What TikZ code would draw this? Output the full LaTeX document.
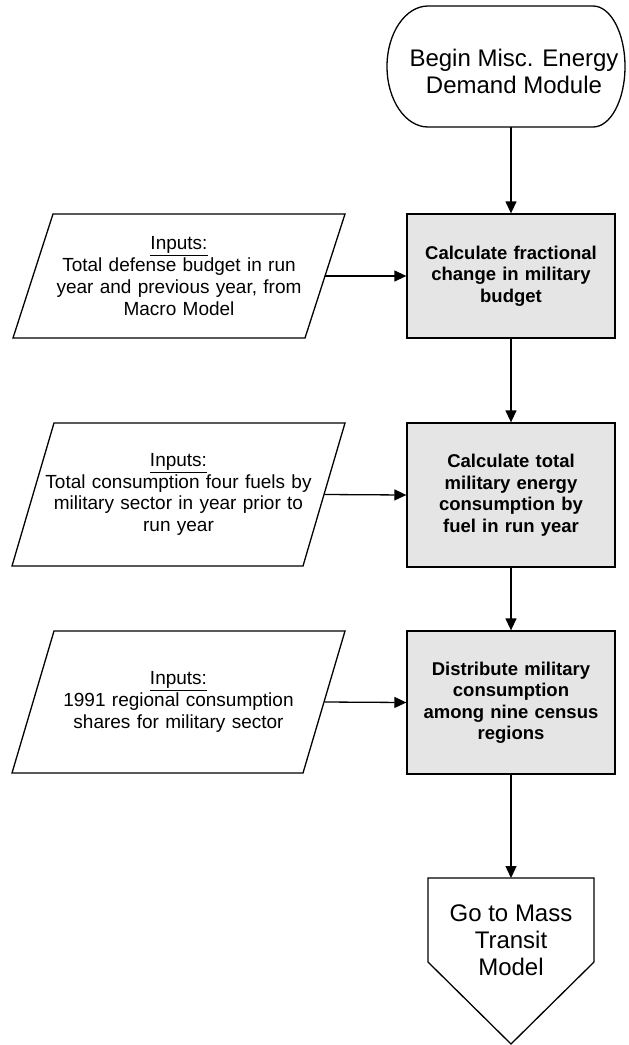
\documentclass[tikz,border=0pt]{standalone}
\usepackage{fontspec}
\setmainfont{Liberation Sans}
\usetikzlibrary{arrows.meta}
\begin{document}
\begin{tikzpicture}[x=1pt,y=-1pt,
 shapeline/.style={draw=black, line width=1.3pt, line join=miter},
 proc/.style={shapeline, fill=black!10, minimum width=208pt, text width=196pt, align=center, inner sep=0pt, font=\fontsize{18.5}{21.5}\selectfont\bfseries},
 inp/.style={text width=280pt, inner xsep=6pt, inner ysep=0pt, align=center, font=\fontsize{19}{21.8}\selectfont},
 term/.style={align=center, inner sep=0pt, font=\fontsize{24}{27}\selectfont},
 arr/.style={line width=1.3pt, -{Triangle[length=12pt,width=11pt]}}]
\useasboundingbox (0,0) rectangle (629,1045);

% start terminator
\draw[shapeline] (428,6) .. controls (405.4,6) and (387,33.1) .. (387,66.5)
  .. controls (387,99.9) and (405.4,127) .. (428,127) -- (593,127)
  .. controls (610.7,127) and (625,99.9) .. (625,66.5)
  .. controls (625,33.1) and (610.7,6) .. (593,6) -- cycle;
\node[term] (begin) at (514,71.5) {Begin Misc. Energy\\Demand Module};
\coordinate (beginbot) at (511,127);

% process boxes
\node[proc, minimum height=124pt] (b1) at (511,276) {Calculate fractional\\change in military\\budget};
\node[proc, minimum height=144pt] (b2) at (511,495) {Calculate total\\military energy\\consumption by\\fuel in run year};
\node[proc, minimum height=143pt] (b3) at (511,702.5) {Distribute military\\consumption\\among nine census\\regions};

% inputs
\draw[shapeline] (53,214) -- (345,214) -- (305,338) -- (13,338) -- cycle;
\node[inp] (i1) at (179,276) {\underline{Inputs:}\\Total defense budget in run\\year and previous year, from\\Macro Model};
\draw[shapeline] (54,423) -- (345,423) -- (303,566) -- (12,566) -- cycle;
\node[inp] (i2) at (178.5,494.5) {\underline{Inputs:}\\Total consumption four fuels by\\military sector in year prior to\\run year};
\draw[shapeline] (54,631) -- (345,631) -- (303,773) -- (12,773) -- cycle;
\node[inp] (i3) at (178.5,702) {\underline{Inputs:}\\1991 regional consumption\\shares for military sector};

% off-page connector
\node[term, anchor=north, inner ysep=27pt, minimum width=166pt] (go) at (511,878) {Go to Mass\\Transit\\Model};
\draw[shapeline] (428,878) -- (594,878) -- (594,962) -- (511,1044) -- (428,962) -- cycle;

% connectors
\draw[arr] (beginbot) -- (b1.north);
\draw[arr] (b1.south) -- (b2.north);
\draw[arr] (b2.south) -- (b3.north);
\draw[arr] (b3.south) -- (go.north);
\draw[arr] (i1.east) -- (b1.west);
\draw[arr] (i2.east) -- (b2.west);
\draw[arr] (i3.east) -- (b3.west);
\end{tikzpicture}
\end{document}
